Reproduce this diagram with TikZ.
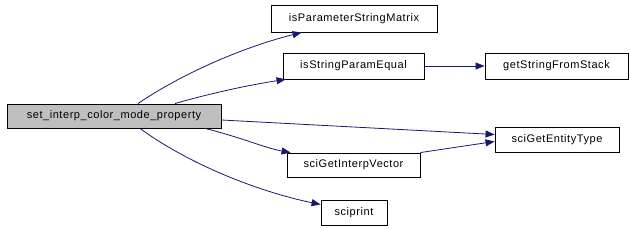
\documentclass[tikz,border=0pt]{standalone}
\usepackage{fontspec}
\setmainfont{Liberation Sans}[LetterSpace=5]
\usetikzlibrary{arrows.meta,calc}
\definecolor{edgecol}{RGB}{25,25,112}
\definecolor{mainfill}{RGB}{191,191,191}
\tikzset{
  fn/.style={draw=black,line width=0.9pt,rectangle,inner sep=0pt,font=\fontsize{11}{13}\selectfont},
  call/.style={draw=edgecol,line width=0.8pt,-{Triangle[length=9pt,width=7pt]}},
}
\begin{document}
\begin{tikzpicture}[x=1pt,y=-1pt]
\useasboundingbox (0,0) rectangle (631,229);
\fill[white] (0,0) rectangle (631,229);
\node[fn,fill=mainfill,minimum width=214pt,minimum height=24pt] (main) at (114,116) {set\_interp\_color\_mode\_property};
\node[fn,minimum width=166pt,minimum height=27pt] (ipsm) at (354,18.5) {isParameterStringMatrix};
\node[fn,minimum width=141pt,minimum height=26pt] (ispe) at (353.5,66) {isStringParamEqual};
\node[fn,minimum width=143pt,minimum height=26pt] (gsfs) at (556.5,66) {getStringFromStack};
\node[fn,minimum width=124pt,minimum height=25pt] (sget) at (557,139.5) {sciGetEntityType};
\node[fn,minimum width=133pt,minimum height=24pt] (sgiv) at (353.5,165) {sciGetInterpVector};
\node[fn,minimum width=66pt,minimum height=25pt] (sp) at (354,212.5) {sciprint};
\draw[call] ($(main.north)+(24,0)$) .. controls (180,75) and (240,48) .. ($(ipsm.south west)+(31,0)$);
\draw[call] ($(main.north)+(61,0)$) .. controls (215,92) and (255,84) .. ($(ispe.south west)+(3,0)$);
\draw[call] (ispe.east) -- (gsfs.west);
\draw[call] ($(main.east)+(0,4)$) -- ($(sget.west)+(0,-5)$);
\draw[call] ($(main.south)+(91,0)$) .. controls (240,137) and (265,148) .. ($(sgiv.north west)+(4,0)$);
\draw[call] (sgiv.north east) -- ($(sget.west)+(0,2)$);
\draw[call] ($(main.south)+(26,0)$) .. controls (190,165) and (260,192) .. ($(sp.west)+(0,-8)$);
\end{tikzpicture}
\end{document}
